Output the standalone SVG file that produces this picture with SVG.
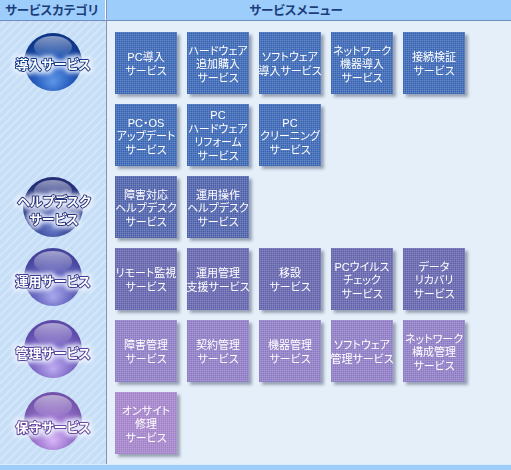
<svg xmlns="http://www.w3.org/2000/svg" width="511" height="470" viewBox="0 0 511 470">
<defs>
<style>
.hdr{font-family:"Liberation Sans","Noto Sans CJK JP",sans-serif;font-size:12.5px;font-weight:bold;fill:#1b3d7a;font-feature-settings:"palt";}
.bt{font-family:"Liberation Sans","Noto Sans CJK JP",sans-serif;font-size:11px;fill:#ffffff;text-anchor:middle;dominant-baseline:central;font-feature-settings:"palt";}
.cl{font-family:"Liberation Sans","Noto Sans CJK JP",sans-serif;font-size:13px;font-weight:bold;fill:#ffffff;text-anchor:middle;dominant-baseline:central;font-feature-settings:"palt";paint-order:stroke;stroke-width:2.2px;stroke-linejoin:round;filter:url(#glow);}
.box{filter:url(#shadow);}
.grid{fill:url(#gridpat);}
.hl{fill:url(#hlgrad);}
</style>
<pattern id="stripes" width="6" height="6" patternUnits="userSpaceOnUse" patternTransform="rotate(45)">
<rect width="6" height="6" fill="#c6def6"/>
<rect width="2" height="6" fill="#d3e6fa"/>
</pattern>
<pattern id="gridpat" width="2" height="2" patternUnits="userSpaceOnUse">
<rect width="2" height="1" fill="#ffffff" fill-opacity="0.13"/>
<rect width="1" height="2" fill="#ffffff" fill-opacity="0.13"/>
</pattern>
<filter id="shadow" x="-10%" y="-10%" width="130%" height="130%">
<feDropShadow dx="3" dy="3" stdDeviation="1.6" flood-color="#3a4460" flood-opacity="0.45"/>
</filter>
<filter id="glow" x="-20%" y="-60%" width="140%" height="220%">
<feMorphology in="SourceAlpha" operator="dilate" radius="1.5" result="d"/>
<feGaussianBlur in="d" stdDeviation="2.2" result="b"/>
<feFlood flood-color="#eef4ff" flood-opacity="0.9"/>
<feComposite in2="b" operator="in" result="g"/>
<feMerge><feMergeNode in="g"/><feMergeNode in="SourceGraphic"/></feMerge>
</filter>
<linearGradient id="hlgrad" x1="0" y1="0" x2="0" y2="1">
<stop offset="0" stop-color="#ffffff" stop-opacity="0.5"/>
<stop offset="1" stop-color="#ffffff" stop-opacity="0"/>
</linearGradient>
<radialGradient id="s1" cx="50%" cy="65%" r="60%" fx="50%" fy="85%">
<stop offset="0" stop-color="#5d95e6"/>
<stop offset="0.5" stop-color="#2a60c0"/>
<stop offset="1" stop-color="#0c3588"/>
</radialGradient>
<radialGradient id="s2" cx="50%" cy="65%" r="60%" fx="50%" fy="85%">
<stop offset="0" stop-color="#6f80cc"/>
<stop offset="0.5" stop-color="#3d4f9f"/>
<stop offset="1" stop-color="#242f78"/>
</radialGradient>
<radialGradient id="s3" cx="50%" cy="65%" r="60%" fx="50%" fy="85%">
<stop offset="0" stop-color="#a8a8ec"/>
<stop offset="0.5" stop-color="#6c6cc4"/>
<stop offset="1" stop-color="#44449c"/>
</radialGradient>
<radialGradient id="s4" cx="50%" cy="65%" r="60%" fx="50%" fy="85%">
<stop offset="0" stop-color="#bcaaf0"/>
<stop offset="0.5" stop-color="#8672cc"/>
<stop offset="1" stop-color="#5c48a8"/>
</radialGradient>
<radialGradient id="s5" cx="50%" cy="65%" r="60%" fx="50%" fy="85%">
<stop offset="0" stop-color="#d6b4f6"/>
<stop offset="0.5" stop-color="#a07ad2"/>
<stop offset="1" stop-color="#7252aa"/>
</radialGradient>
</defs>

<!-- backgrounds -->
<rect x="0" y="0" width="511" height="470" fill="#e4eff9"/>
<rect x="0" y="21" width="106" height="443" fill="url(#stripes)"/>
<rect x="0" y="0" width="511" height="20" fill="#9dcdfb"/>
<rect x="0" y="20" width="511" height="1" fill="#6f8ec0"/>
<rect x="105" y="0" width="1" height="20" fill="#ffffff"/>
<rect x="106" y="0" width="1" height="464" fill="#8496b8"/>
<rect x="0" y="464" width="511" height="1" fill="#d8ecff"/>
<rect x="0" y="465" width="511" height="5" fill="#9fcdfa"/>
<text class="hdr" x="5" y="15">サービスカテゴリ</text>
<text class="hdr" x="296" y="15" text-anchor="middle">サービスメニュー</text>

<g id="connectors"/>

<!-- categories -->
<g id="cat-dounyu">
<circle cx="53" cy="62" r="29" fill="url(#s1)"/>
<ellipse cx="53" cy="47" rx="19" ry="11" class="hl"/>
<text class="cl" x="53" y="64" stroke="#0d3a8c">導入サービス</text>
</g>
<g id="cat-helpdesk">
<circle cx="53" cy="207" r="30" fill="url(#s2)"/>
<ellipse cx="53" cy="191" rx="19" ry="11" class="hl"/>
<text class="cl" x="54" y="201" stroke="#263380">ヘルプデスク</text>
<text class="cl" x="54" y="219" stroke="#263380">サービス</text>
</g>
<g id="cat-unyou">
<circle cx="53" cy="277" r="29" fill="url(#s3)"/>
<ellipse cx="53" cy="262" rx="19" ry="11" class="hl"/>
<text class="cl" x="53" y="281" stroke="#3c3c94">運用サービス</text>
</g>
<g id="cat-kanri">
<circle cx="53" cy="349" r="29" fill="url(#s4)"/>
<ellipse cx="53" cy="334" rx="19" ry="11" class="hl"/>
<text class="cl" x="53" y="353" stroke="#54409e">管理サービス</text>
</g>
<g id="cat-hoshu">
<circle cx="53" cy="421" r="29" fill="url(#s5)"/>
<ellipse cx="53" cy="406" rx="19" ry="11" class="hl"/>
<text class="cl" x="53" y="427" stroke="#6a4aa2">保守サービス</text>
</g>

<!-- row 1 -->
<g id="svc-pc-dounyu" class="box"><rect x="115" y="32" width="62" height="62" fill="#3462b2"/><rect x="115" y="32" width="62" height="62" class="grid"/>
<text class="bt" x="146" y="57">PC導入</text><text class="bt" x="146" y="71">サービス</text></g>
<g id="svc-hw-tsuika" class="box"><rect x="187" y="32" width="62" height="62" fill="#3462b2"/><rect x="187" y="32" width="62" height="62" class="grid"/>
<text class="bt" x="218" y="50.5">ハードウェア</text><text class="bt" x="218" y="64">追加購入</text><text class="bt" x="218" y="77.5">サービス</text></g>
<g id="svc-sw-dounyu" class="box"><rect x="259" y="32" width="62" height="62" fill="#3462b2"/><rect x="259" y="32" width="62" height="62" class="grid"/>
<text class="bt" x="290" y="57">ソフトウェア</text><text class="bt" x="290" y="71">導入サービス</text></g>
<g id="svc-nw-kiki" class="box"><rect x="331" y="32" width="62" height="62" fill="#3462b2"/><rect x="331" y="32" width="62" height="62" class="grid"/>
<text class="bt" x="362" y="50.5">ネットワーク</text><text class="bt" x="362" y="64">機器導入</text><text class="bt" x="362" y="77.5">サービス</text></g>
<g id="svc-setsuzoku" class="box"><rect x="403" y="32" width="62" height="62" fill="#3462b2"/><rect x="403" y="32" width="62" height="62" class="grid"/>
<text class="bt" x="434" y="57">接続検証</text><text class="bt" x="434" y="71">サービス</text></g>

<!-- row 2 -->
<g id="svc-pcos" class="box"><rect x="115" y="104" width="62" height="62" fill="#3462b2"/><rect x="115" y="104" width="62" height="62" class="grid"/>
<text class="bt" x="146" y="122.5">PC・OS</text><text class="bt" x="146" y="136">アップデート</text><text class="bt" x="146" y="149.5">サービス</text></g>
<g id="svc-pc-reform" class="box"><rect x="187" y="104" width="62" height="62" fill="#3462b2"/><rect x="187" y="104" width="62" height="62" class="grid"/>
<text class="bt" x="218" y="115">PC</text><text class="bt" x="218" y="128.5">ハードウェア</text><text class="bt" x="218" y="142">リフォーム</text><text class="bt" x="218" y="155.5">サービス</text></g>
<g id="svc-pc-cleaning" class="box"><rect x="259" y="104" width="62" height="62" fill="#3462b2"/><rect x="259" y="104" width="62" height="62" class="grid"/>
<text class="bt" x="290" y="122.5">PC</text><text class="bt" x="290" y="136">クリーニング</text><text class="bt" x="290" y="149.5">サービス</text></g>

<!-- row 3 helpdesk -->
<g id="svc-shougai-hd" class="box"><rect x="115" y="176" width="62" height="62" fill="#4a5ca8"/><rect x="115" y="176" width="62" height="62" class="grid"/>
<text class="bt" x="146" y="194.5">障害対応</text><text class="bt" x="146" y="208">ヘルプデスク</text><text class="bt" x="146" y="221.5">サービス</text></g>
<g id="svc-unyou-hd" class="box"><rect x="187" y="176" width="62" height="62" fill="#4a5ca8"/><rect x="187" y="176" width="62" height="62" class="grid"/>
<text class="bt" x="218" y="194.5">運用操作</text><text class="bt" x="218" y="208">ヘルプデスク</text><text class="bt" x="218" y="221.5">サービス</text></g>

<!-- row 4 operations -->
<g id="svc-remote" class="box"><rect x="115" y="248" width="62" height="62" fill="#5e5eaa"/><rect x="115" y="248" width="62" height="62" class="grid"/>
<text class="bt" x="146" y="273">リモート監視</text><text class="bt" x="146" y="287">サービス</text></g>
<g id="svc-unyou-shien" class="box"><rect x="187" y="248" width="62" height="62" fill="#5e5eaa"/><rect x="187" y="248" width="62" height="62" class="grid"/>
<text class="bt" x="218" y="273">運用管理</text><text class="bt" x="218" y="287">支援サービス</text></g>
<g id="svc-isetsu" class="box"><rect x="259" y="248" width="62" height="62" fill="#5e5eaa"/><rect x="259" y="248" width="62" height="62" class="grid"/>
<text class="bt" x="290" y="273">移設</text><text class="bt" x="290" y="287">サービス</text></g>
<g id="svc-virus" class="box"><rect x="331" y="248" width="62" height="62" fill="#5e5eaa"/><rect x="331" y="248" width="62" height="62" class="grid"/>
<text class="bt" x="362" y="266.5">PCウイルス</text><text class="bt" x="362" y="280">チェック</text><text class="bt" x="362" y="293.5">サービス</text></g>
<g id="svc-recovery" class="box"><rect x="403" y="248" width="62" height="62" fill="#5e5eaa"/><rect x="403" y="248" width="62" height="62" class="grid"/>
<text class="bt" x="434" y="266.5">データ</text><text class="bt" x="434" y="280">リカバリ</text><text class="bt" x="434" y="293.5">サービス</text></g>

<!-- row 5 management -->
<g id="svc-shougai-kanri" class="box"><rect x="115" y="320" width="62" height="62" fill="#8a78c2"/><rect x="115" y="320" width="62" height="62" class="grid"/>
<text class="bt" x="146" y="345">障害管理</text><text class="bt" x="146" y="359">サービス</text></g>
<g id="svc-keiyaku" class="box"><rect x="187" y="320" width="62" height="62" fill="#8a78c2"/><rect x="187" y="320" width="62" height="62" class="grid"/>
<text class="bt" x="218" y="345">契約管理</text><text class="bt" x="218" y="359">サービス</text></g>
<g id="svc-kiki-kanri" class="box"><rect x="259" y="320" width="62" height="62" fill="#8a78c2"/><rect x="259" y="320" width="62" height="62" class="grid"/>
<text class="bt" x="290" y="345">機器管理</text><text class="bt" x="290" y="359">サービス</text></g>
<g id="svc-sw-kanri" class="box"><rect x="331" y="320" width="62" height="62" fill="#8a78c2"/><rect x="331" y="320" width="62" height="62" class="grid"/>
<text class="bt" x="362" y="345">ソフトウェア</text><text class="bt" x="362" y="359">管理サービス</text></g>
<g id="svc-nw-kousei" class="box"><rect x="403" y="320" width="62" height="62" fill="#8a78c2"/><rect x="403" y="320" width="62" height="62" class="grid"/>
<text class="bt" x="434" y="338.5">ネットワーク</text><text class="bt" x="434" y="352">構成管理</text><text class="bt" x="434" y="365.5">サービス</text></g>

<!-- row 6 maintenance -->
<g id="svc-onsite" class="box"><rect x="115" y="392" width="62" height="62" fill="#a07ec8"/><rect x="115" y="392" width="62" height="62" class="grid"/>
<text class="bt" x="146" y="410.5">オンサイト</text><text class="bt" x="146" y="424">修理</text><text class="bt" x="146" y="437.5">サービス</text></g>
</svg>
